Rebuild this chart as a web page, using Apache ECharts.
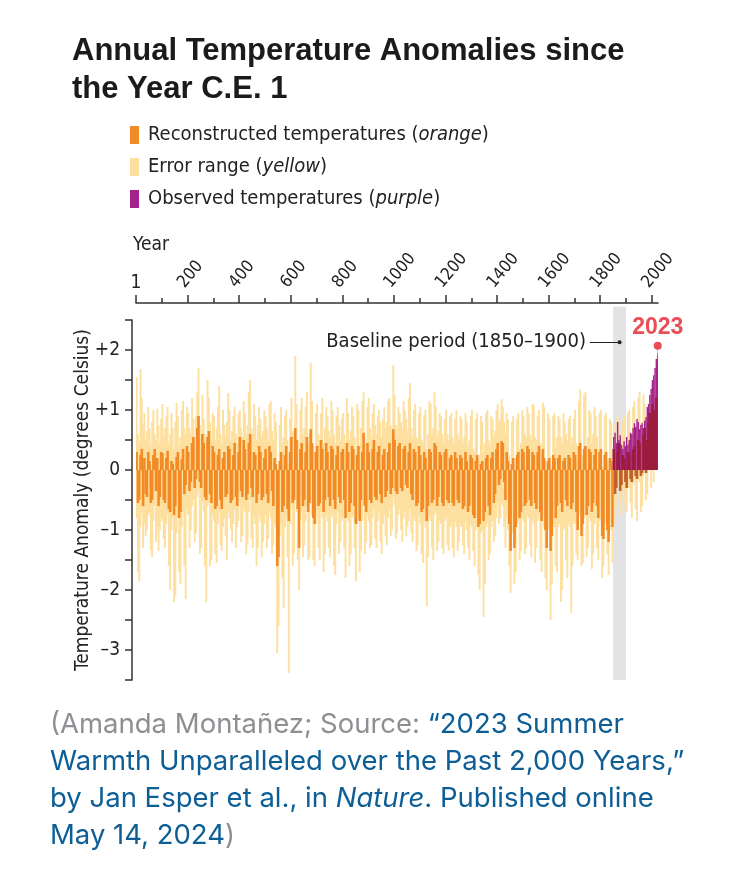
<!DOCTYPE html>
<html><head><meta charset="utf-8">
<script src="https://cdn.jsdelivr.net/npm/echarts@6/dist/echarts.min.js"></script>
<style>html,body{margin:0;padding:0;background:#fff}#c{width:742px;height:886px}</style>
</head><body><div id="c"></div>
<script>
// 5-year bins: bin k covers years 5k .. 5k+5 (k = 0..403, i.e. up to 2020)
const binYears = 5;
const reconstructed = [
.3,-.55,-.5,.25,.35,-.6,.2,-.4,-.45,.3,.15,-.55,-.5,.25,.35,-.35,.2,-.6,-.45,.3,
.28,-.5,-.55,.2,.32,-.65,-.7,.15,.1,-.75,-.6,.22,.3,-.8,-.7,.18,.35,-.4,-.25,.4,
.3,-.35,-.2,.45,.55,-.3,-.15,.7,.9,-.2,-.3,.6,.45,-.45,-.5,.55,.65,-.4,-.55,.4,
.3,-.65,-.6,.25,.35,-.5,-.65,.2,.3,-.45,-.4,.4,.35,-.55,-.5,.25,.45,-.45,-.6,.3,
.55,-.35,-.45,.5,.35,-.5,-.4,.45,.6,-.3,-.45,.3,.25,-.55,-.4,.4,.3,-.5,-.45,.2,
.35,-.4,-.55,.4,.3,-.35,-.6,.2,.1,-1.6,-1.45,.15,.3,-.7,-.6,.25,.4,-.65,-.85,.3,
.55,-.55,-.5,.7,.5,-.65,-1.3,.35,.45,-.6,-.5,.3,.55,-.7,-.55,.68,.45,-.8,-.9,.3,
.4,-.6,-.55,.5,.35,-.7,-.5,.45,.3,-.45,-.6,.4,.35,-.5,-.65,.25,.4,-.45,-.55,.3,
.35,-.5,-.8,.45,.3,-.7,-.55,.4,.35,-.6,-.9,.25,.4,-.85,-.5,.3,.62,-.6,-.7,.45,
.3,-.5,-.55,.35,.5,-.45,-.5,.3,.4,-.4,-.55,.25,.35,-.45,-.35,.3,.45,-.4,-.3,.68,
.5,-.35,-.4,.4,.45,-.3,-.35,.35,.4,-.25,-.3,.3,.45,-.4,-.5,.35,.3,-.6,-.55,.4,
.25,-.7,-.65,.3,.2,-.85,-.6,.35,.3,-.55,-.5,.45,.4,-.6,-.45,.3,.25,-.55,-.6,.3,
.35,-.5,-.55,.2,.25,-.55,-.6,.3,.2,-.5,-.55,.25,.2,-.65,-.6,.3,.15,-.7,-.6,.25,
.2,-.75,-.8,.15,.25,-.95,-.9,.1,.15,-.85,-.7,.2,.25,-.6,-.75,.2,.3,-.55,-.4,.35,
.45,-.25,-.15,.48,.45,-.2,-.5,.3,.15,-.9,-1.35,.1,.2,-1.3,-.95,.25,.3,-.8,-.7,.35,
.3,-.6,-.55,.4,.35,-.5,-.6,.3,.25,-.55,-.65,.3,.4,-.7,-.85,.35,.2,-1.0,-1.3,.15,
.2,-1.35,-1.1,.25,.2,-.8,-.6,.2,.25,-.55,-.7,.15,.2,-.5,-.6,.25,.2,-.65,-.55,.3,
.25,-.7,-1.0,.4,.45,-1.1,-.9,.35,.4,-.75,-.6,.35,.3,-.7,-.55,.25,.35,-.6,-.8,.3,
.35,-1.1,-1.15,.25,.3,-1.0,-1.2,.2,.15,-.95,
.35,-.4,-.3,.3,.45,-.35,-.25,.25,.2,-.2,-.3,.3,.25,-.15,-.2,.35,.4,-.1,-.15,.5,
.45,-.1,-.05,.6,.7,-.05,.5,.8,.95,.7,1.1,.9,1.0,1.2];
const errorHigh = [
1.55,.6,.45,1.68,1.2,.75,.95,.5,.65,1.05,.7,.4,.8,1.0,.6,.5,1.02,.75,.45,.85,
1.1,.55,.7,.9,1.05,.45,.6,.95,.7,.35,.8,1.12,.9,.4,.55,1.0,1.15,.7,.6,1.05,
.95,.7,.6,1.2,.85,.55,.9,1.3,1.7,.75,.55,1.25,.85,.6,.5,1.5,1.2,.8,.5,.95,
.9,.5,.7,1.05,1.4,.6,.45,1.0,.75,.55,.8,1.28,1.0,.5,.65,.9,1.05,.6,.45,.95,
1.0,.7,.55,1.15,.95,.6,.75,1.3,1.5,.7,.6,1.1,.9,.5,.75,1.05,.85,.55,.65,1.0,
.9,.7,.5,1.1,1.15,.65,.5,.95,.8,-.3,-.2,.75,1.05,.45,.55,.9,1.0,.5,.1,.85,
1.2,.65,.55,1.9,1.1,.5,-.2,1.0,1.2,.6,.7,1.05,1.3,.45,.6,1.78,1.15,.4,.3,.95,
1.1,.6,.5,.95,1.2,.45,.7,1.05,.9,.65,.55,1.15,1.0,.6,.45,.9,1.05,.75,.5,.85,
.95,.6,.3,1.2,.95,.5,.65,1.05,.9,.55,.3,1.1,1.0,.35,.7,1.15,1.3,.55,.45,1.05,
1.2,.7,.55,.95,1.1,.75,.6,.9,1.0,.8,.55,.85,1.05,.7,.8,1.15,1.2,.75,.6,1.75,
1.25,.75,.6,1.05,.95,.8,.7,1.15,1.0,.85,.65,1.2,1.45,.7,.55,1.0,1.1,.55,.5,.95,
1.05,.5,.45,.9,1.0,.35,.6,1.15,1.1,.6,.7,1.3,1.05,.55,.65,.95,.9,.6,.45,.85,
1.0,.6,.5,.9,.95,.55,.45,.85,1.0,.6,.5,.9,.85,.45,.55,.95,.8,.4,.5,.9,
1.0,.35,.3,.85,.95,.2,.25,.9,.8,.3,.45,.95,1.0,.5,.4,.9,.85,.55,.65,1.0,
1.1,.8,.85,1.18,1.05,.8,.6,.95,.85,.25,-.3,.8,.9,-.3,.2,.85,.95,.35,.45,1.0,
.9,.6,.55,1.05,.95,.6,.5,1.1,1.08,.55,.5,.9,1.0,.45,.3,1.12,1.05,.15,-.3,.95,
.85,-.3,.05,.9,.95,.35,.55,.9,.85,.55,.45,.95,.8,.6,.5,.85,.9,.45,.55,.85,
1.0,.45,.15,1.15,1.34,.05,.25,1.25,1.3,.4,.55,1.0,.95,.45,.6,1.05,.9,.55,.35,.95,
1.0,.05,0,.9,.95,.15,-.05,.85,.8,.2,
.75,.3,.4,.9,.85,.35,.45,.8,.9,.5,.45,.95,1.0,.55,.55,1.05,1.15,.65,.7,1.2,
1.3,.75,.8,1.25,1.1,.75,.9,1.0,1.25,1.0,1.4,1.2,1.3,1.5];
const errorLow = [
-.8,-1.7,-1.85,-.95,-.7,-1.3,-.9,-1.1,-1.0,-.75,-.7,-1.35,-1.45,-.85,-.6,-1.2,-.95,-1.35,-1.0,-.8,
-.85,-1.15,-1.3,-.9,-.75,-1.6,-2.0,-1.0,-.8,-2.2,-2.1,-1.05,-.8,-1.7,-1.9,-.95,-.7,-1.6,-2.15,-.65,
-.75,-1.3,-1.0,-.6,-.5,-1.2,-1.05,-.45,-.35,-1.4,-1.3,-.55,-.7,-1.6,-2.2,-.6,-.55,-1.6,-1.5,-.75,
-.85,-1.4,-1.55,-.9,-.7,-1.25,-1.35,-.95,-.8,-1.1,-1.5,-.7,-.8,-1.0,-1.2,-.9,-.65,-1.3,-.95,-.85,
-.55,-1.2,-1.1,-.65,-.7,-1.4,-1.25,-.7,-.5,-1.15,-1.3,-.8,-.9,-1.6,-1.3,-.75,-.85,-1.45,-1.2,-.9,
-.75,-1.3,-1.15,-.7,-.8,-1.4,-1.25,-.9,-.95,-3.05,-2.6,-1.1,-.9,-1.8,-2.3,-.95,-.8,-1.45,-3.38,-.9,
-.6,-1.6,-1.4,-.5,-.7,-1.5,-2.0,-.85,-.7,-1.45,-1.25,-.85,-.6,-1.5,-1.45,-.5,-.75,-1.5,-1.6,-.9,
-.75,-1.3,-1.5,-.7,-.8,-1.7,-1.4,-.75,-.85,-1.3,-1.45,-.8,-.75,-1.6,-1.75,-.9,-.7,-1.4,-1.2,-.85,
-.8,-1.3,-1.8,-.75,-.85,-1.6,-1.4,-.8,-.75,-1.3,-1.85,-.9,-.8,-1.7,-1.35,-.85,-.55,-1.4,-1.2,-.75,
-.85,-1.3,-1.25,-.8,-.65,-1.15,-1.3,-.85,-.7,-1.2,-1.4,-.9,-.75,-1.1,-1.25,-.8,-.65,-1.1,-1.0,-.45,
-.6,-1.15,-1.05,-.75,-.65,-1.0,-1.2,-.8,-.7,-1.1,-.95,-.85,-.65,-1.05,-1.2,-.8,-.85,-1.35,-1.25,-.75,
-.9,-1.4,-1.55,-.85,-.95,-2.27,-1.45,-.8,-.85,-1.3,-1.5,-.75,-.7,-1.35,-1.2,-.85,-.9,-1.3,-1.4,-.85,
-.8,-1.25,-1.35,-.95,-.9,-1.3,-1.45,-.85,-.95,-1.35,-1.2,-.9,-.95,-1.25,-1.4,-.85,-1.0,-1.3,-1.5,-.9,
-.95,-1.35,-1.6,-1.0,-.9,-1.75,-2.0,-1.05,-1.0,-2.45,-1.9,-.95,-.9,-1.5,-1.4,-.95,-.85,-1.2,-1.1,-.8,
-.55,-.9,-.8,-.55,-.6,-.95,-1.3,-.8,-1.0,-1.6,-2.05,-1.05,-.95,-1.9,-1.7,-.9,-.85,-1.5,-1.35,-.8,
-.85,-1.4,-1.3,-.75,-.8,-1.25,-1.45,-.85,-.9,-1.55,-1.3,-.85,-.75,-1.5,-1.7,-.8,-.95,-1.8,-2.0,-1.0,
-.95,-2.5,-1.9,-.9,-.95,-1.6,-1.7,-.95,-.9,-2.2,-2.0,-1.0,-.95,-1.5,-1.8,-.9,-.95,-2.38,-1.6,-.85,
-.9,-1.4,-1.5,-.75,-.7,-1.6,-1.55,-.8,-.75,-1.45,-1.3,-.8,-.85,-1.65,-1.4,-.9,-.8,-1.3,-1.5,-.85,
-.8,-1.8,-1.6,-.9,-.85,-1.4,-1.75,-.95,-1.0,-1.55,
-.3,-.9,-.6,-.3,-.2,-.75,-.5,-.3,-.35,-.6,-.7,-.3,-.3,-.55,-.8,-.25,-.2,-.65,-.85,-.15,
-.2,-.7,-.6,-.1,0,-.5,-.4,.1,.1,-.3,.3,-.2,.1,.4];
const observedStart = 1850;
const obsYears = [1850,1855,1860,1865,1870,1875,1880,1885,1890,1895,1900,1905,1910,1915,1920,1925,1930,1935,1940,1945,1950,1955,1960,1965,1970,1975,1980,1985,1990,1995,2000,2005,2010,2015,2020,2021,2022,2023];
const obsValues = [0.55,0.62,0.45,0.8,0.5,0.58,0.42,0.35,0.48,0.4,0.55,0.42,0.5,0.62,0.6,0.7,0.78,0.72,0.85,0.8,0.68,0.75,0.78,0.7,0.82,0.88,1.05,1.1,1.25,1.35,1.5,1.58,1.7,1.85,1.9,1.8,1.95,2.07];
const xMajorTicks = [0,200,400,600,800,1000,1200,1400,1600,1800,2000];
const xLabelTicks = [200,400,600,800,1000,1200,1400,1600,1800,2000];
const xMinorTicks = [100,300,500,700,900,1100,1300,1500,1700,1900];
const baseline = [1850, 1900];

const F = "'Liberation Sans Narrow','DejaVu Sans Condensed','Roboto Condensed',sans-serif";
const chart = echarts.init(document.getElementById('c'), null, {renderer:'canvas'});

const split = observedStart / binYears;
function range(lo, hi, from, to){
  const out = [];
  for (let k = from; k < to; k++) out.push([k*binYears, k*binYears + binYears, lo ? lo[k] : 0, hi[k]]);
  return out;
}
const reconEarly = range(null, reconstructed, 0, split);
const reconRecent = range(null, reconstructed, split, reconstructed.length);
const reconRecentPos = reconRecent.filter(d => d[3] > 0);
const reconRecentNeg = reconRecent.filter(d => d[3] < 0);
const errData = range(errorLow, errorHigh, 0, errorHigh.length);
const obsData = obsYears.map((y, i) => [y, i < obsYears.length - 1 ? obsYears[i+1] : y + 1, 0, obsValues[i]]);

// sub-pixel bins are drawn slightly wider than their span so neighbours blend like the original's annual strokes
function makeRender(widen){
  return function(params, api){
    const p0 = api.coord([api.value(0), api.value(2)]);
    const p1 = api.coord([api.value(1), api.value(3)]);
    const w = Math.max(0.6, p1[0]-p0[0]);
    const ww = w * widen;
    return {type:'rect', shape:{x:p0[0] - (ww - w)/2, y:Math.min(p0[1], p1[1]), width:ww, height:Math.abs(p1[1]-p0[1])},
      style:{fill: api.visual('color')}};
  };
}
function bar(name, data, color, z, widen){
  return {type:'custom', name, renderItem: makeRender(widen || 1.1), data, encode:{x:[0,1], y:[2,3]}, itemStyle:{color}, silent:true, z, clip:true};
}
const N1 = 'Reconstructed temperatures (orange)', N2 = 'Error range (yellow)', N3 = 'Observed temperatures (purple)';
const ORANGE = '#f28a26', YELLOW = '#fde0a0', PURPLE = '#a6228d', DARKRED = '#9b1c3c', RED = '#e5202a';

const captionText = '{g|(Amanda Montañez; Source: }{b|\u201C2023 Summer}\n{b|Warmth Unparalleled over the Past 2,000 Years,\u201D}\n{b|by Jan Esper et al., in }{bi|Nature}{b|. Published online}\n{b|May 14, 2024}{g|)}';
const CF = "Inter, Roboto, sans-serif";

const option = {
  animation: false,
  backgroundColor: '#fff',
  title: {text:'Annual Temperature Anomalies since\nthe Year C.E. 1', left:67, top:27,
    textStyle:{fontFamily:'Liberation Sans', fontWeight:'bold', fontSize:31, lineHeight:38, color:'#1b1b1b'}},
  legend: {orient:'vertical', left:125, top:120, itemWidth:9, itemHeight:18, itemGap:12, icon:'rect',
    data:[N1, N2, N3], selectedMode:false,
    formatter: n => n.replace(/\((\w+)\)/, '({i|$1})'),
    textStyle:{fontFamily:F, fontSize:20, color:'#222', padding:[0,0,0,4],
      rich:{i:{fontFamily:F, fontSize:20, fontStyle:'italic', color:'#222'}}}},
  grid: {left:136, right:84, top:320, bottom:206, containLabel:false},
  xAxis: [
    {type:'value', position:'top', offset:17, min:0, max:2024,
      axisLine:{show:true, onZero:false, lineStyle:{color:'#333', width:1.5}},
      axisTick:{show:true, length:8, customValues:xMajorTicks, lineStyle:{color:'#333', width:1.5}},
      axisLabel:{customValues:xLabelTicks, rotate:-50, verticalAlign:'bottom', formatter: v => String(v), fontFamily:F, fontSize:17, color:'#222', margin:12},
      splitLine:{show:false}},
    {type:'value', position:'top', offset:17, min:0, max:2024,
      axisLine:{show:false, onZero:false},
      axisTick:{show:true, length:5, customValues:xMinorTicks, lineStyle:{color:'#333', width:1.5}},
      axisLabel:{customValues:[0], formatter:() => '1', fontFamily:F, fontSize:19, color:'#222', margin:10},
      splitLine:{show:false},
      name:'Year', nameLocation:'start', nameGap:3,
      nameTextStyle:{fontFamily:F, fontSize:19, color:'#222', align:'left', verticalAlign:'bottom', padding:[0,0,48,0]}}
  ],
  yAxis: {type:'value', min:-3.5, max:2.5, interval:0.5, offset:4,
    axisLine:{show:true, onZero:false, lineStyle:{color:'#333', width:1.5}},
    axisTick:{show:true, length:7, lineStyle:{color:'#333', width:1.5}},
    axisLabel:{fontFamily:F, fontSize:19, color:'#222', margin:12,
      formatter: v => (Math.abs(v % 1) > 1e-9) ? '' : (v > 0 ? '+' + v : (v < 0 ? '\u2013' + (-v) : '0'))},
    splitLine:{show:false},
    name:'Temperature Anomaly (degrees Celsius)', nameLocation:'middle', nameGap:39, nameMoveOverlap:false,
    nameTextStyle:{fontFamily:F, fontSize:19, color:'#222'}},
  series: [
    bar(N2, errData, YELLOW, 2, 1.5),
    bar(N1, reconEarly, ORANGE, 3, 2),
    bar('reconNegRecent', reconRecentNeg, '#c0622c', 3, 2),
    bar(N3, obsData, PURPLE, 4, 1.1),
    bar('reconPosRecent', reconRecentPos, DARKRED, 5, 2),
    {type:'scatter', z:6, silent:true, symbolSize:8, itemStyle:{color:RED},
      data:[[obsYears[obsYears.length-1], obsValues[obsValues.length-1]]],
      label:{show:true, position:'top', distance:3, formatter:'2023', fontFamily:'Liberation Sans', fontWeight:'bold', fontSize:23, color:RED}},
    {type:'line', data:[], z:6, silent:true,
      markLine:{silent:true, symbol:['none','circle'], symbolSize:4,
        lineStyle:{color:'#222', width:1, type:'solid'},
        label:{show:true, position:'start', distance:4, formatter:'Baseline period (1850\u20131900)', fontFamily:F, fontSize:20, color:'#222'},
        data:[[{coord:[1760, 2.13]}, {coord:[1875, 2.13]}]]}}
  ],
  graphic: [
    {id:'caption', type:'text', left:50, top:711, silent:true,
      style:{text:captionText,
        rich:{
          g:{fill:'#8e8e93', color:'#8e8e93', fontFamily:CF, fontSize:27.5, lineHeight:37},
          b:{fill:'#0c5e95', color:'#0c5e95', fontFamily:CF, fontSize:27.5, lineHeight:37},
          bi:{fill:'#0c5e95', color:'#0c5e95', fontFamily:CF, fontSize:27.5, lineHeight:37, fontStyle:'italic'}
        }}}
  ]
};
chart.setOption(option);
// baseline band: placed through the chart's own scales, extending a little above the plot like the original
const conv = v => chart.convertToPixel({xAxisIndex:0, yAxisIndex:0}, v);
const pTop = conv([baseline[0], 2.5]);
const pBot = conv([baseline[1], -3.5]);
const perUnit = (pBot[1] - pTop[1]) / 6;
chart.setOption({graphic: [
  {id:'caption'},
  {id:'band', type:'rect', z:0, silent:true,
    shape:{x:pTop[0], y:pTop[1] - 0.22*perUnit, width:pBot[0]-pTop[0], height:pBot[1]-pTop[1] + 0.22*perUnit},
    style:{fill:'#e3e3e6'}}
]});
</script>
</body></html>
